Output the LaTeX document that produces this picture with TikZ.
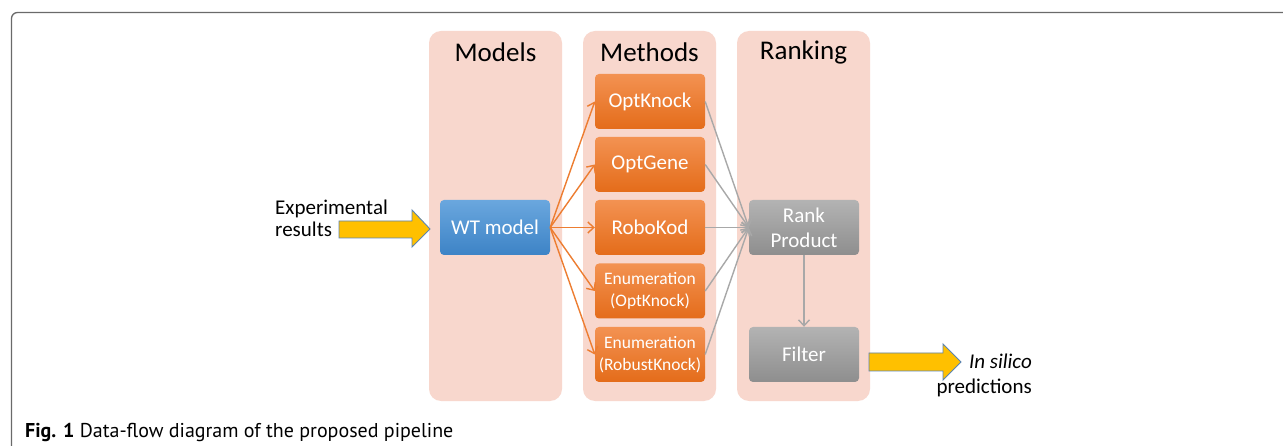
\documentclass[tikz,border=0pt]{standalone}
\usepackage{fontspec}
\setmainfont{Carlito}
\newfontfamily\capfont{PT Sans}
\usetikzlibrary{arrows.meta,positioning}
\definecolor{panelc}{HTML}{F8D7CD}
\definecolor{orgtop}{HTML}{F39252}
\definecolor{orgbot}{HTML}{E46C1A}
\definecolor{bltop}{HTML}{6AA7DE}
\definecolor{blbot}{HTML}{3D83C6}
\definecolor{grtop}{HTML}{B3B3B3}
\definecolor{grbot}{HTML}{8E8E8E}
\definecolor{orgarrow}{HTML}{ED7D31}
\definecolor{grarrow}{HTML}{A8A8A8}
\definecolor{yel}{HTML}{FFC000}
\definecolor{yelborder}{HTML}{5B84B1}
\definecolor{framec}{HTML}{6A6A6A}
\tikzset{
  panel/.style={fill=panelc, rounded corners=12pt},
  title/.style={font=\fontsize{27}{32}\selectfont, text=black},
  boxbase/.style={rounded corners=4pt, minimum width=110pt, minimum height=55pt, inner sep=0pt, align=center, text=white},
  orgbox/.style={boxbase, top color=orgtop, bottom color=orgbot, font=\fontsize{21}{25}\selectfont},
  orgsmall/.style={boxbase, top color=orgtop, bottom color=orgbot, font=\fontsize{17.5}{21.5}\selectfont},
  bluebox/.style={boxbase, top color=bltop, bottom color=blbot, font=\fontsize{21}{25}\selectfont},
  graybox/.style={boxbase, top color=grtop, bottom color=grbot, font=\fontsize{21}{25}\selectfont},
  oarr/.style={draw=orgarrow, line width=1.4pt, -{Straight Barb[length=6pt,width=11pt,line width=1.4pt]}},
  garr/.style={draw=grarrow, line width=1.4pt, -{Straight Barb[length=6pt,width=11pt,line width=1.4pt]}},
  blockarr/.style={fill=yel, draw=yelborder, line width=0.9pt, line join=miter},
  plain/.style={text=black, inner sep=0pt},
}
\begin{document}
\begin{tikzpicture}[x=1pt, y=-1pt]
\useasboundingbox (0,0) rectangle (1283,446);
\fill[white] (0,0) rectangle (1283,446);
% frame
\draw[framec, line width=1.3pt, rounded corners=6pt] (11.5,447) -- (11.5,12.5) -- (1290,12.5);
% panels
\fill[panel] (429,31) rectangle (562,401);
\fill[panel] (583,31) rectangle (716,401);
\fill[panel] (737,31) rectangle (870,401);
\node[title] (tmodels) at (495.5,52) {Models};
\node[title] (tmethods) at (649.5,52) {Methods};
\node[title] (tranking) at (803.5,52) {Ranking};
% boxes
\node[bluebox] (wt) at (495,227.5) {WT model};
\node[orgbox] (ok) at (650,101.5) {OptKnock};
\node[orgbox] (og) at (650,164.5) {OptGene};
\node[orgbox] (rk) at (650,227.5) {RoboKod};
\node[orgsmall] (eo) at (650,291) {Enumeration\\(OptKnock)};
\node[orgsmall] (er) at (650,354.5) {Enumeration\\(RobustKnock)};
\node[graybox] (rp) at (804,227.5) {Rank\\Product};
\node[graybox] (fi) at (804,354.5) {Filter};
% orange arrows
\foreach \t in {ok,og,rk,eo,er} \draw[oarr] (wt.east) -- (\t.west);
% gray arrows
\foreach \s in {ok,og,rk,eo,er} \draw[garr] (\s.east) -- (rp.west);
\draw[garr] (rp.south) -- (fi.north);
% experimental results
\node[plain, align=left, anchor=west, font=\fontsize{21}{22.5}\selectfont] (exp) at (275,218.5) {Experimental\\results};
\draw[blockarr] (339,221) -- (412,221) -- (412,210) -- (430,229) -- (412,247) -- (412,238) -- (339,238) -- cycle;
% in silico predictions
\draw[blockarr] (869,353) -- (943,353) -- (943,344) -- (961,362) -- (943,380) -- (943,371) -- (869,371) -- cycle;
\node[plain, align=right, anchor=north east, font=\fontsize{21}{25.2}\selectfont] (pred) at (1032,354) {\textit{In silico}\\predictions};
% caption
\node[anchor=base west, inner sep=0pt, font=\capfont\fontsize{20}{24}\selectfont] (cap) at (25,437) {\textbf{Fig. 1} Data-flow diagram of the proposed pipeline};
\end{tikzpicture}
\end{document}
